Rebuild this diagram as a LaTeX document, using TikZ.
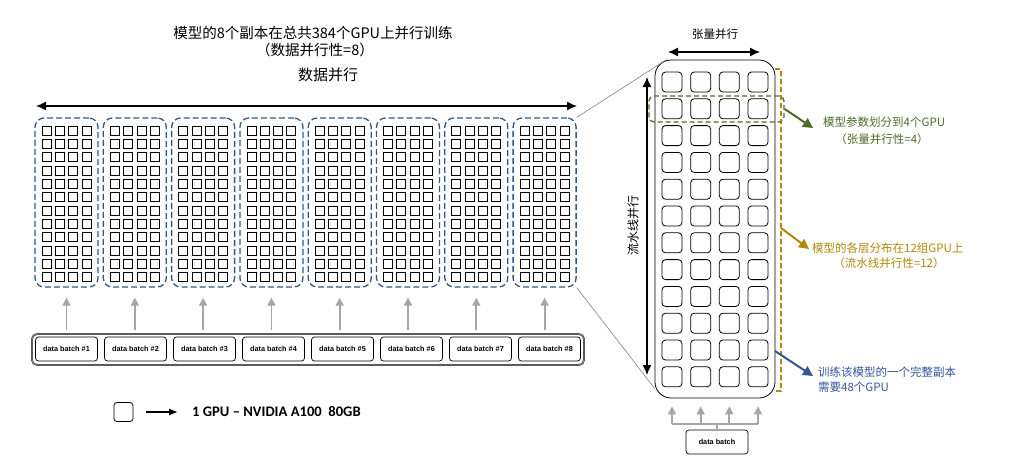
\documentclass[tikz,border=0pt]{standalone}
\usepackage{fontspec}
\setmainfont{Liberation Sans}
\newfontfamily\cjk{Noto Sans CJK SC}
\newfontfamily\cali{Carlito}
\usetikzlibrary{arrows.meta,calc}
\tikzset{>=latex}
\definecolor{grpblue}{HTML}{34587E}
\definecolor{tpgreen}{HTML}{4F6B2A}
\definecolor{ppgold}{HTML}{B0860C}
\definecolor{dpblue}{HTML}{34559A}
\definecolor{linkgray}{HTML}{A6A6A6}
\tikzset{
  gpu/.style={draw, line width=0.8pt, minimum size=9pt, inner sep=0pt, outer sep=0pt},
  bigpu/.style={draw, line width=0.8pt, rounded corners=3.5pt, minimum size=20pt, inner sep=0pt},
  grp/.style={draw=grpblue, line width=1.3pt, dash pattern=on 6pt off 3pt, rounded corners=9pt,
    minimum width=63pt, minimum height=169pt, inner sep=0pt},
  batch/.style={draw, line width=0.7pt, rounded corners=3pt, minimum width=62pt, minimum height=24pt,
    inner sep=0pt, font=\fontsize{7.3}{8}\selectfont\bfseries},
  garrow/.style={draw=linkgray, line width=1.8pt, -{Triangle[length=8pt,width=8pt]}},
  bigarrow/.style={line width=1.3pt, {Latex[length=10pt,width=9pt]}-{Latex[length=10pt,width=9pt]}},
  note/.style={line width=2pt, -{Triangle[length=10pt,width=10pt]}},
  big/.style={font=\cjk\fontsize{14.5}{16}\selectfont, text=black},
  small/.style={font=\cjk\fontsize{11.5}{13}\selectfont},
}

\begin{document}
\begin{tikzpicture}[x=1pt,y=-1pt]
	\useasboundingbox (0,0) rectangle (1020,475);

	% Datenparallelitaet
	\node[big] (title) at (313,33) {模型的8个副本在总共384个GPU上并行训练};
	\node[big] (subtitle) at (315,50) {（数据并行性=8）};
	\node[big, font=\cjk\fontsize{15}{17}\selectfont] (dplabel) at (328,75) {数据并行};
	\coordinate (dpl) at (36,106);
	\coordinate (dpr) at (577,106);
	\draw[bigarrow] (dpl) -- (dpr);

	\node[draw=black!80, double=black!35, double distance=0.6pt, line width=0.6pt, rounded corners=5pt,
	    minimum width=552pt, minimum height=31pt] (allbatch) at (308,349.5) {};

	\foreach \g [count=\n] in {0,...,7} {
	    \node[grp] (grp\g) at ({66.5+68.3*\g},202.5) {};
	    \foreach \c in {0,...,3}
	        \foreach \r in {0,...,11}
	            \node[gpu] at ({46.5+68.3*\g+13.33*\c},{130.5+13.33*\r}) {};
	    \node[batch] (batch\g) at ({66.5+69*\g},349) {data batch \#\n};
	    \draw[garrow, shorten <=4pt, shorten >=10pt] (grp\g.south |- allbatch.north) -- (grp\g.south);
	}

	% Legende
	\node[draw, line width=0.8pt, rounded corners=3pt, minimum size=19pt] (legsq) at (123.5,412) {};
	\node[anchor=west, inner sep=0pt, font=\cali\bfseries\fontsize{14.6}{16}\selectfont] (legtxt) at (192,412) {1 GPU – NVIDIA A100\ \ 80GB};
	\draw[-{Latex[length=9pt,width=7pt]}, line width=1.3pt] ([xshift=13pt]legsq.east) -- ([xshift=-14pt]legtxt.west);

	% ein Modell-Replikat
	\node[draw, line width=0.8pt, rounded corners=16pt, minimum width=120pt, minimum height=338pt] (replica) at (715,229) {};
	\foreach \r in {0,...,11}
	    \foreach \c in {0,...,3}
	        \node[bigpu] (sq-\r-\c) at ({672+28.67*\c},{82+26.8*\r}) {};

	\node[draw=tpgreen, line width=1.3pt, dash pattern=on 5pt off 3pt, rounded corners=5pt,
	    minimum width=135pt, minimum height=26pt] (tpbox) at (716.5,109) {};
	\coordinate (ppa) at (775,69);
	\coordinate (ppb) at (781,69);
	\coordinate (ppc) at (781,391);
	\coordinate (ppd) at (775,391);
	\draw[ppgold, line width=1.3pt, dash pattern=on 5pt off 3pt] (ppa) -- (ppb) -- (ppc) -- (ppd);

	\node[small] (tplabel) at (715,34) {张量并行};
	\coordinate (tpl) at (668,52);
	\coordinate (tpr) at (760,52);
	\draw[bigarrow] (tpl) -- (tpr);
	\node[small, rotate=90, font=\cjk\fontsize{12}{14}\selectfont] (pplabel) at (633,225) {流水线并行};
	\coordinate (ppt) at (647,77);
	\coordinate (ppbot) at (647,375);
	\draw[bigarrow] (ppt) -- (ppbot);

	% Anmerkungen
	\node[small, anchor=west, inner sep=0pt, text=tpgreen] (tpnote) at (823,122) {模型参数划分到4个GPU};
	\node[small, text=tpgreen] (tpnote2) at (882,139) {（张量并行性=4）};
	\draw[note, tpgreen] (tpbox.east) -- ($(tpnote.west)+(-10,6)$);

	\node[small, anchor=west, inner sep=0pt, text=ppgold] (ppnote) at (812,248) {模型的各层分布在12组GPU上};
	\node[small, text=ppgold] (ppnote2) at (889,263) {（流水线并行性=12）};
	\coordinate (ppmid) at (781,228);
	\draw[note, ppgold] (ppmid) -- ($(ppnote.west)+(-3,1)$);

	\node[small, anchor=west, inner sep=0pt, text=dpblue, align=left, font=\cjk\fontsize{11.5}{15}\selectfont] (dpnote) at (818,380) {训练该模型的一个完整副本\\需要48个GPU};
	\coordinate (dpfrom) at (775,351);
	\draw[note, dpblue] (dpfrom) -- ($(dpnote.west)+(-5,-4)$);

	% Verbindung
	\draw[gray, line width=0.6pt] (grp7.north east) -- ([xshift=12pt]replica.north west);
	\draw[gray, line width=0.6pt] (grp7.south east) -- ([yshift=10pt]replica.south west);

	\node[batch] (onebatch) at (717,442) {data batch};
	\coordinate (fork) at (717,424);
	\draw[linkgray, line width=1.8pt] (onebatch.north) -- (fork);
	\draw[linkgray, line width=1.8pt] (sq-11-0 |- fork) -- (sq-11-3 |- fork);
	\foreach \c in {0,...,3}
	    \draw[garrow, shorten >=8pt] (sq-11-\c |- fork) -- (sq-11-\c |- replica.south);
\end{tikzpicture}
\end{document}
